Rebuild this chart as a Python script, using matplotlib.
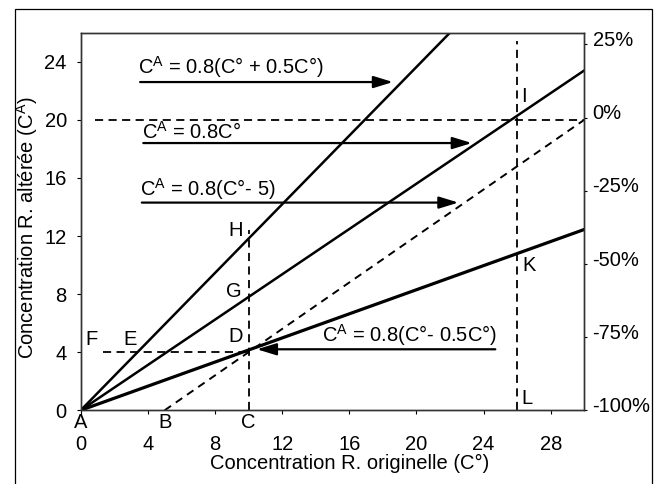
import matplotlib.pyplot as plt
from matplotlib.patches import Rectangle
from matplotlib.transforms import ScaledTranslation

plt.rcParams['font.family'] = ['Liberation Sans', 'DejaVu Sans']
plt.rcParams['mathtext.default'] = 'regular'
plt.rcParams['font.size'] = 14.5

# droites du schema (extremites)
plus_x = [0, 22.0]
plus_y = [0, 26.0]
base_x = [0, 30]
base_y = [0, 23.4]
moins_x = [0, 30]
moins_y = [0, 12.45]
decal_x = [5, 30]
decal_y = [0, 20]

# reperes en pointilles
h20_x = [0.85, 30]
h20_y = [20, 20]
h4_x = [1.3, 10]
h4_y = [4, 4]
v10_x = [10, 10]
v10_y = [0, 12.4]
v26_x = [26, 26]
v26_y = [0, 25.4]

x_ticks = [0, 4, 8, 12, 16, 20, 24, 28]
y_ticks = [0, 4, 8, 12, 16, 20, 24]
pct_ticks = [-100, -75, -50, -25, 0, 25]
pct_labels = ['-100%', '-75%', '-50%', '-25%', '0%', '25%']

equations = ['C$^A$ = 0.8(C° + 0.5C°)', 'C$^A$ = 0.8C°',
             'C$^A$ = 0.8(C°- 5)', 'C$^A$ = 0.8(C°- 0.5C°)']
eq_x = [3.4, 3.64, 3.53, 24.8]
eq_y = [23.6, 19.2, 15.25, 5.2]
eq_ha = ['left', 'left', 'left', 'right']
arrow_start = [3.54, 3.73, 3.64, 24.7]
arrow_end = [18.6, 23.3, 22.5, 10.5]
arrow_y = [22.6, 18.4, 14.3, 4.2]

points = ['F', 'E', 'D', 'G', 'H', 'I', 'K', 'L']
pt_x = [0.65, 2.94, 9.2, 9.1, 9.2, 26.4, 26.7, 26.6]
pt_y = [4.9, 4.85, 5.1, 8.15, 12.4, 21.6, 10.0, 0.83]
axis_pts = ['A', 'B', 'C']
axis_pt_x = [0, 5, 10]

fig = plt.figure(figsize=(6.62, 4.84), dpi=100)
ax = fig.add_axes([0.1219, 0.1523, 0.7607, 0.7802])

ax.plot(plus_x, plus_y, color='black', lw=1.8)
ax.plot(base_x, base_y, color='black', lw=1.8)
ax.plot(moins_x, moins_y, color='black', lw=2.3)
ax.plot(decal_x, decal_y, color='black', lw=1.4, ls=(0, (4, 3)))

dash = (0, (4.5, 3))
for xs, ys in [(h20_x, h20_y), (h4_x, h4_y), (v10_x, v10_y), (v26_x, v26_y)]:
    ax.plot(xs, ys, color='black', lw=1.3, ls=dash)

for txt, x, y, ha in zip(equations, eq_x, eq_y, eq_ha):
    ax.text(x, y, txt, ha=ha, va='center')

for x0, x1, y in zip(arrow_start, arrow_end, arrow_y):
    ax.annotate('', xy=(x1, y), xytext=(x0, y),
                arrowprops=dict(arrowstyle='-|>,head_length=0.65,head_width=0.2',
                                color='black', lw=1.6, mutation_scale=18,
                                shrinkA=0, shrinkB=0))

for p, x, y in zip(points, pt_x, pt_y):
    ax.text(x, y, p, ha='center', va='center')
for p, x in zip(axis_pts, axis_pt_x):
    ax.text(x, -0.84, p, ha='center', va='center', clip_on=False)

ax.set_xlim(0, 30)
ax.set_ylim(0, 26)
ax.set_xticks(x_ticks)
ax.set_yticks(y_ticks)
ax.tick_params(axis='x', direction='out', length=3, pad=15)
ax.tick_params(axis='y', direction='out', length=3, pad=7)
for s in ax.spines.values():
    s.set_linewidth(1.0)
    s.set_color('#333333')

ax2 = ax.twinx()
ax2.set_ylim(-100, 29)
ax2.set_yticks(pct_ticks)
ax2.set_yticklabels(pct_labels)
ax2.tick_params(axis='y', direction='out', length=2, pad=4)
for s in ax2.spines.values():
    s.set_linewidth(1.0)
    s.set_color('#333333')
shift = ScaledTranslation(0, 4.2 / 72, fig.dpi_scale_trans)
for lab in ax2.get_yticklabels():
    lab.set_transform(lab.get_transform() + shift)

fig.text(0.0408, 0.53, 'Concentration R. altérée (C$^A$)', rotation=90,
         ha='center', va='center')
fig.text(0.5287, 0.0434, 'Concentration R. originelle (C°)', ha='center', va='center')

fig.add_artist(Rectangle((0.0227, -0.05), 0.9618, 1.0314, transform=fig.transFigure,
                         fill=False, edgecolor='black', lw=0.9))

fig.savefig('out.png', dpi=100)
